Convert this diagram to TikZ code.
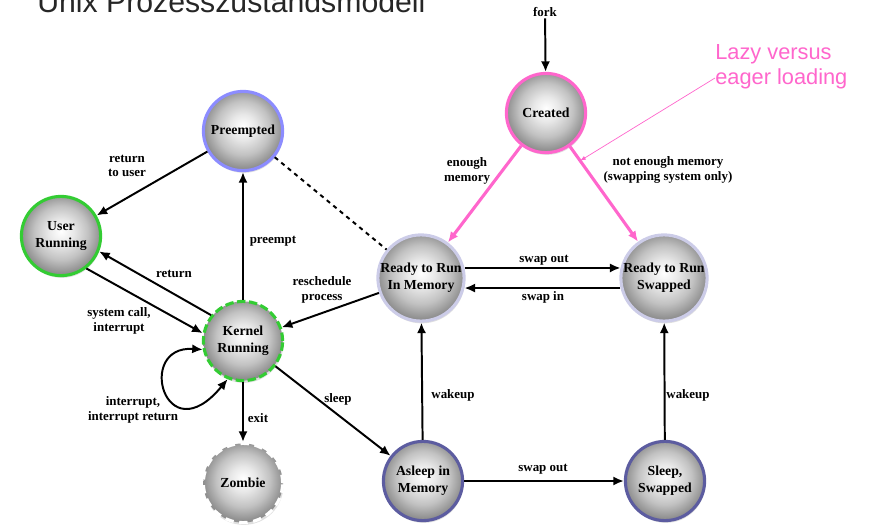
\documentclass[tikz,border=0pt]{standalone}
\usepackage{fontspec}
\setmainfont{Liberation Serif}
\newfontfamily\headfont{Liberation Sans}
\usepackage{tikz}
\usetikzlibrary{arrows.meta,shadows}
\definecolor{lazypink}{HTML}{FF66CC}
\definecolor{preblue}{HTML}{8C8CFF}
\definecolor{rungreen}{HTML}{33CC33}
\definecolor{readylav}{HTML}{CCCCE8}
\definecolor{sleepblue}{HTML}{5C5CA0}
\pgfdeclareradialshading{orb}{\pgfpoint{0bp}{3bp}}{color(0bp)=(white); color(8bp)=(black!9); color(17bp)=(black!24); color(25bp)=(black!44); color(50bp)=(black!44)}
\newcommand{\lblfont}{\fontsize{9.2}{10.5}\selectfont\bfseries}
\newcommand{\statefont}{\fontsize{9.8}{12}\selectfont\bfseries}

\tikzset{
  state/.style={circle, shading=orb, line width=2.2pt, minimum size=1.98cm, inner sep=0pt,
    align=center, font=\statefont,
    drop shadow={shadow xshift=0.6pt, shadow yshift=-1.6pt, fill=black!25}},
  ready/.style={state, draw=readylav, minimum size=2.08cm},
  lbl/.style={font=\lblfont, align=center, inner sep=1pt},
  trans/.style={->, line width=1.4pt},
  pinktrans/.style={->, line width=2.2pt, lazypink}
}

\begin{document}
\begin{tikzpicture}[x=0.025cm, y=-0.025cm, >={Latex[length=7.5pt,width=6.5pt]}]
  \useasboundingbox (0,0) rectangle (876,528);
  % title and remark
  \node[anchor=base west, inner sep=0, text=black!85, font=\headfont\fontsize{21.5}{24}\selectfont] (title) at (37,12) {Unix Prozesszustandsmodell};
  \node[anchor=west, align=left, inner sep=0, text=lazypink, font=\headfont\fontsize{15.5}{17.7}\selectfont] (lazy) at (715,67) {Lazy versus\\eager loading};

  % states
  \node[state, draw=lazypink] (C) at (546,113) {Created};
  \node[state, draw=preblue] (P) at (243,131) {Preempted};
  \node[state, draw=rungreen] (U) at (61,236) {User\\Running};
  \node[state, draw=rungreen, dash pattern=on 6pt off 2.5pt] (K) at (243,341) {Kernel\\Running};
  \node[state, draw=white, dash pattern=on 6pt off 4pt] (Z) at (243,483) {Zombie};
  \node[ready] (RM) at (421,278) {Ready to Run\\In Memory};
  \node[ready] (RS) at (664,278) {Ready to Run\\Swapped};
  \node[state, draw=sleepblue] (AM) at (423,481) {Asleep in\\Memory};
  \node[state, draw=sleepblue] (SS) at (665,481) {Sleep,\\Swapped};

  % creation
  \node[lbl] (fork) at (545,12) {fork};
  \draw[trans] (fork) -- (C);
  \draw[pinktrans] (C) -- (RM);
  \draw[pinktrans] (C) -- coordinate[pos=0.15] (lazytip) (RS);
  \node[lbl] (enough) at (467,171) {enough\\memory};
  \node[lbl] (notenough) at (668,170) {not enough memory\\(swapping system only)};
  \draw[lazypink, line width=0.5pt, -{Latex[length=4pt,width=3pt]}] ([yshift=-0.275cm]lazy.west) -- (lazytip);

  % running and preemption
  \draw[trans] (P) -- (U);
  \node[lbl] (rettouser) at (127,166) {return\\to user};
  \draw[line width=1.4pt, dashed] (P) -- (RM);
  \draw[trans] (K) -- (P);
  \node[lbl] (preempt) at (273,241) {preempt};
  \draw[trans] (K.141) -- (U.-22);
  \node[lbl] (ret) at (174,274) {return};
  \draw[trans] (U.-52) -- (K.169);
  \node[lbl] (syscall) at (119,321) {system call,\\interrupt};
  \draw[<->, line width=1.4pt] (K.192) .. controls (135,345) and (165,455) .. (K.248);
  \node[lbl] (intr) at (133,410) {interrupt,\\interrupt return};
  \draw[trans] (K) -- (Z);
  \node[lbl] (exit) at (258,418) {exit};
  \draw[trans] (RM) -- (K);
  \node[lbl] (resched) at (322,290) {reschedule\\process};
  \draw[trans] (K) -- (AM);
  \node[lbl] (sleep) at (338,399) {sleep};

  % swapping
  \draw[trans] (RM.13) -- (RS.167);
  \node[lbl] (swapout) at (544,260) {swap out};
  \draw[trans] (RS.193) -- (RM.-13);
  \node[lbl] (swapin) at (543,297) {swap in};
  \draw[trans] (AM) -- (RM);
  \node[lbl] (wakeupl) at (453,395) {wakeup};
  \draw[trans] (AM) -- (SS);
  \node[lbl] (swapoutb) at (543,469) {swap out};
  \draw[trans] (SS) -- (RS);
  \node[lbl] (wakeupr) at (688,395) {wakeup};
\end{tikzpicture}
\end{document}
